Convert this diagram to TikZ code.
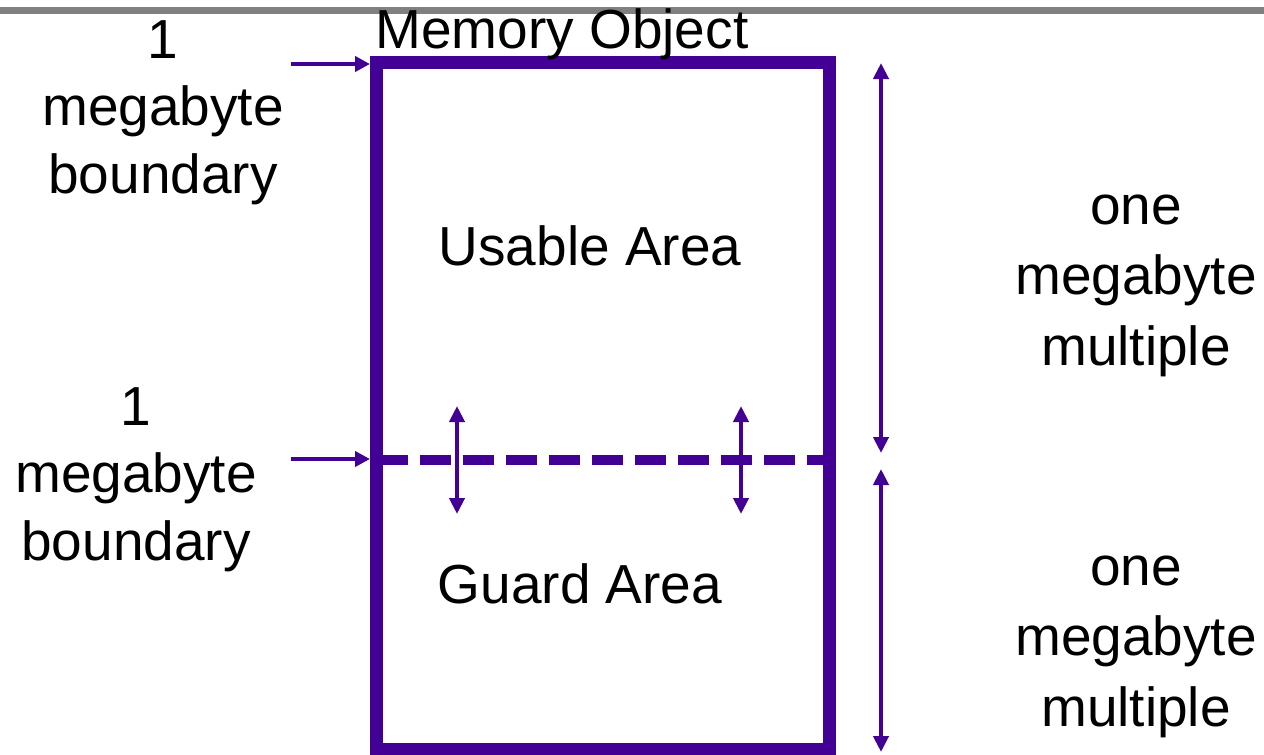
\documentclass[tikz,border=0pt]{standalone}
\usepackage{fontspec}
\setmainfont{Liberation Sans}
\usetikzlibrary{arrows.meta}
\definecolor{violetline}{RGB}{66,0,148}
\definecolor{topbar}{RGB}{128,128,128}
\begin{document}
\begin{tikzpicture}[x=1pt,y=-1pt,
  lbl/.style={font=\fontsize{55}{67.5}\selectfont, align=center, anchor=base, inner sep=0pt},
  rlbl/.style={font=\fontsize{55}{70.5}\selectfont, align=center, anchor=base, inner sep=0pt},
  txt/.style={font=\fontsize{55}{66}\selectfont, anchor=base, inner sep=0pt},
  arr/.style={violetline, line width=4pt, -{Triangle[length=15pt,width=15pt]}},
  darr/.style={violetline, line width=4pt, {Triangle[length=16pt,width=15pt]}-{Triangle[length=16pt,width=15pt]}},
  membox/.style={draw=violetline, line width=13pt, minimum width=452.5pt, minimum height=686.5pt, inner sep=0pt},
  divider/.style={violetline, line width=10pt, dash pattern=on 31pt off 12pt}]
\useasboundingbox (0,0) rectangle (1264,755);
\fill[topbar] (0,7) rectangle (1264,14);
% memory object box
\node[membox] (mem) at (602.75,405.75) {};
% divider
\coordinate (d1) at (376.5,460);
\coordinate (d2) at (829,460);
\draw[divider] (d1) -- (d2);
% texts
\node[txt] (title) at (562,48) {Memory Object};
\node[txt] (usable) at (590,265) {Usable Area};
\node[txt] (guard) at (580,603) {Guard Area};
\node[lbl] (lb1) at (163,193) {1\\megabyte\\boundary};
\node[lbl] (lb2) at (136,560) {1\\megabyte\\boundary};
\node[rlbl] (rm1) at (1136,365) {one\\megabyte\\multiple};
\node[rlbl] (rm2) at (1136,726) {one\\megabyte\\multiple};
% boundary arrows
\coordinate (a1) at (291,64);
\coordinate (a2) at (291,459);
\draw[arr] (a1) -- (mem.west |- a1);
\draw[arr] (a2) -- (mem.west |- a2);
% size arrows
\coordinate (r1t) at (881,63);
\coordinate (r1b) at (881,453);
\coordinate (r2t) at (881,469);
\coordinate (r2b) at (881,752);
\draw[darr] (r1t) -- (r1b);
\draw[darr] (r2t) -- (r2b);
% guard arrows
\coordinate (g1t) at (457,406);
\coordinate (g1b) at (457,514);
\coordinate (g2t) at (741,406);
\coordinate (g2b) at (741,514);
\draw[darr] (g1t) -- (g1b);
\draw[darr] (g2t) -- (g2b);
\end{tikzpicture}
\end{document}
